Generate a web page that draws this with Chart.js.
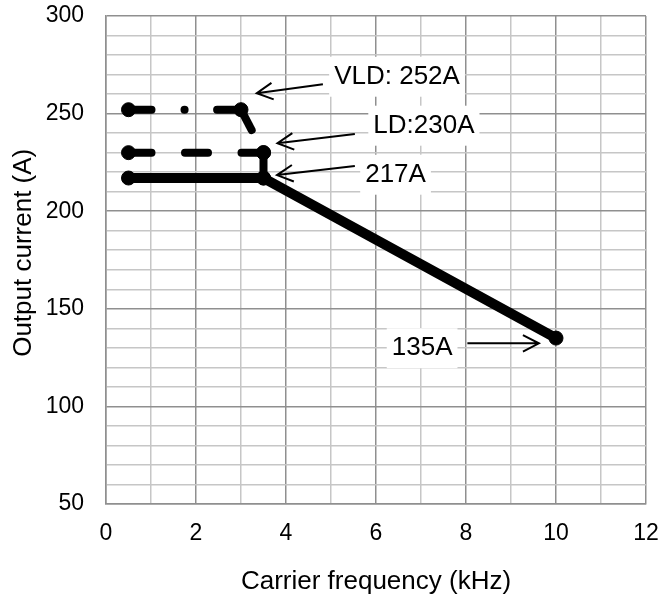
<!DOCTYPE html>
<html>
<head>
<meta charset="utf-8">
<script src="https://cdn.jsdelivr.net/npm/chart.js@4.4.0/dist/chart.umd.min.js"></script>
<style>
  html, body { margin: 0; padding: 0; background: #fff; }
  #wrap { width: 662px; height: 603px; position: relative; }
</style>
</head>
<body>
<div id="wrap"><canvas id="chart"></canvas></div>
<script>
// Dados das curvas (frequência em kHz, corrente em A)
const vldFreq = [0.5, 3, 3.5];
const vldCurrent = [252, 252, 230];
const ldFreq = [0.5, 3.5, 3.5];
const ldCurrent = [230, 230, 217];
const ndFreq = [0.5, 3.5, 10];
const ndCurrent = [217, 217, 135];

// Rótulos dos eixos
const xTickLabels = [0, 2, 4, 6, 8, 10, 12];
const yTickLabels = [50, 100, 150, 200, 250, 300];

// Anotações (texto + seta), em unidades dos eixos
const notes = [
    { text: 'VLD: 252A', x: 5.07, y: 268.9, from: [4.82, 265.0], to: [3.35, 260.4] },
    { text: 'LD:230A',   x: 5.94, y: 243.8, from: [5.53, 239.5], to: [3.81, 234.8] },
    { text: '217A',      x: 5.76, y: 218.7, from: [5.53, 223.2], to: [3.80, 218.5] },
    { text: '135A',      x: 6.35, y: 129.8, from: [8.03, 132.3], to: [9.62, 132.3] }
];

const FONT = "'Liberation Sans', Arial, sans-serif";
const MAJOR = '#8f8f8f';
const MINOR = '#c6c6c6';

function toPoints(xs, ys) {
    return xs.map((x, i) => ({ x: x, y: ys[i] }));
}

// cada segmento recomeça o tracejado (como no Excel)
const restartDash = { borderDashOffset: ctx => ctx.p0DataIndex / 1000 };

function seriesStyle(dash, width) {
    return {
        showLine: true,
        borderColor: '#000',
        backgroundColor: '#000',
        borderWidth: width,
        borderDash: dash,
        borderCapStyle: 'round',
        borderJoinStyle: 'round',
        pointRadius: 7,
        pointBorderWidth: 1,
        pointBackgroundColor: '#000',
        pointBorderColor: '#000',
        segment: restartDash
    };
}

function drawArrow(ctx, x1, y1, x2, y2) {
    const ang = Math.atan2(y2 - y1, x2 - x1);
    const head = 18, spread = 0.48;
    ctx.beginPath();
    ctx.moveTo(x1, y1);
    ctx.lineTo(x2, y2);
    ctx.moveTo(x2 - head * Math.cos(ang - spread), y2 - head * Math.sin(ang - spread));
    ctx.lineTo(x2, y2);
    ctx.lineTo(x2 - head * Math.cos(ang + spread), y2 - head * Math.sin(ang + spread));
    ctx.stroke();
}

const notesPlugin = {
    id: 'notes',
    beforeDatasetsDraw(chart) {
        const { ctx, scales: { x, y } } = chart;
        ctx.save();
        ctx.font = '26px ' + FONT;
        ctx.fillStyle = '#fff';
        notes.forEach(n => {
            const w = ctx.measureText(n.text).width;
            const px = x.getPixelForValue(n.x);
            const py = y.getPixelForValue(n.y);
            ctx.fillRect(px - 5, py - 20, w + 10, 40);
        });
        ctx.restore();
    },
    afterDatasetsDraw(chart) {
        const { ctx, scales: { x, y } } = chart;
        ctx.save();
        ctx.font = '26px ' + FONT;
        ctx.fillStyle = '#000';
        ctx.textAlign = 'left';
        ctx.textBaseline = 'middle';
        ctx.strokeStyle = '#000';
        ctx.lineWidth = 2;
        notes.forEach(n => {
            ctx.fillText(n.text, x.getPixelForValue(n.x), y.getPixelForValue(n.y));
            drawArrow(ctx,
                x.getPixelForValue(n.from[0]), y.getPixelForValue(n.from[1]),
                x.getPixelForValue(n.to[0]), y.getPixelForValue(n.to[1]));
        });
        ctx.restore();
    }
};

new Chart(document.getElementById('chart').getContext('2d'), {
    type: 'scatter',
    data: {
        datasets: [
            Object.assign({ label: 'ND', data: toPoints(ndFreq, ndCurrent) }, seriesStyle([], 10)),
            Object.assign({ label: 'LD', data: toPoints(ldFreq, ldCurrent) }, seriesStyle([23, 33.5], 8)),
            Object.assign({ label: 'VLD', data: toPoints(vldFreq, vldCurrent) }, seriesStyle([23, 33, 0.1, 32.5], 8))
        ]
    },
    options: {
        responsive: true,
        maintainAspectRatio: false,
        animation: false,
        layout: { padding: { left: 0, top: 16, right: 16, bottom: 0 } },
        plugins: {
            legend: { display: false },
            tooltip: { enabled: false }
        },
        scales: {
            x: {
                type: 'linear',
                min: 0,
                max: 12,
                afterFit: s => { s.height = 99; s.paddingLeft = 0; s.paddingRight = 0; },
                ticks: {
                    stepSize: 1,
                    autoSkip: false,
                    maxRotation: 0,
                    padding: 16,
                    color: '#000',
                    font: { family: FONT, size: 23 },
                    callback: v => xTickLabels.includes(v) ? String(v) : ''
                },
                grid: {
                    drawTicks: false,
                    color: c => (c.tick && c.tick.value % 2 === 0) ? MAJOR : MINOR,
                    lineWidth: 1.5
                },
                border: { color: MAJOR, width: 1.5 },
                title: {
                    display: true,
                    text: 'Carrier frequency (kHz)',
                    color: '#000',
                    font: { family: FONT, size: 26 },
                    padding: { top: 0, bottom: 6 }
                }
            },
            y: {
                min: 50,
                max: 300,
                afterFit: s => { s.width = 106; s.paddingTop = 0; s.paddingBottom = 0; },
                ticks: {
                    stepSize: 10,
                    autoSkip: false,
                    padding: 22,
                    color: '#000',
                    font: { family: FONT, size: 23 },
                    callback: v => yTickLabels.includes(v) ? String(v) : ''
                },
                grid: {
                    drawTicks: false,
                    color: c => (c.tick && c.tick.value % 50 === 0) ? MAJOR : MINOR,
                    lineWidth: 1.5
                },
                border: { color: MAJOR, width: 1.5 },
                title: {
                    display: true,
                    // espaços iniciais sobem o título ~7px, como no original
                    text: '  Output current (A)',
                    color: '#000',
                    font: { family: FONT, size: 26 },
                    padding: { top: 8, bottom: 0 }
                }
            }
        }
    },
    plugins: [notesPlugin]
});
</script>
</body>
</html>
